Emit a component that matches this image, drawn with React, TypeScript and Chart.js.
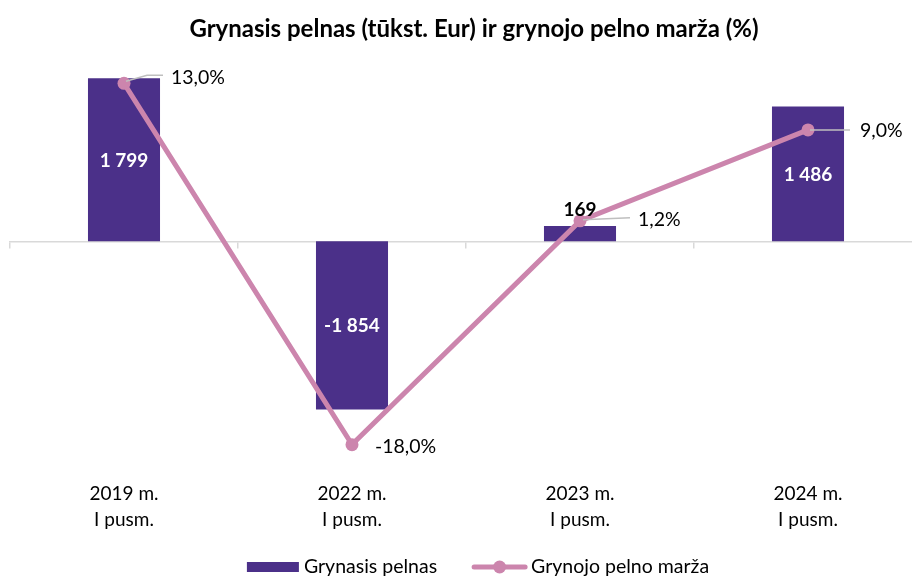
import React, { useEffect, useRef } from "react";
import { Chart, registerables } from "chart.js";

Chart.register(...registerables);

const title = "Grynasis pelnas (tūkst. Eur) ir grynojo pelno marža (%)";
const categories: string[][] = [
  ["2019 m.", "I pusm."],
  ["2022 m.", "I pusm."],
  ["2023 m.", "I pusm."],
  ["2024 m.", "I pusm."],
];
const profitLabel = "Grynasis pelnas";
const marginLabel = "Grynojo pelno marža";
const profitValues = [1799, -1854, 169, 1486];
const marginValues = [13.0, -18.0, 1.2, 9.0];

const BAR_COLOR = "#4B3089";
const LINE_COLOR = "#CC85AD";
const FONT = "Lato, 'Noto Sans', sans-serif";

const fmtThousands = (v: number) => {
  const s = Math.abs(v).toString().replace(/\B(?=(\d{3})+(?!\d))/g, " ");
  return (v < 0 ? "-" : "") + s;
};
const fmtPct = (v: number) => v.toFixed(1).replace(".", ",") + "%";

// label placement styles (offsets relative to each point)
const marginLabelStyle = [
  { dx: 47, dy: -6, leader: [[2, -2], [23, -8], [39, -8]] },
  { dx: 23, dy: 2, leader: null },
  { dx: 58, dy: -1, leader: [[3, -1], [50, -3]] },
  { dx: 52, dy: 1, leader: [[2, 0], [42, 0]] },
];

const labelsPlugin = {
  id: "customLabels",
  afterDatasetsDraw(chart: any) {
    const ctx = chart.ctx;
    ctx.save();
    const barMeta = chart.getDatasetMeta(1);
    barMeta.data.forEach((el: any, i: number) => {
      const v = profitValues[i];
      const h = Math.abs(el.base - el.y);
      ctx.font = `bold 19px ${FONT}`;
      ctx.textAlign = "center";
      ctx.textBaseline = "middle";
      if (h > 40) {
        ctx.fillStyle = "#ffffff";
        ctx.fillText(fmtThousands(v), el.x, (el.y + el.base) / 2 + 1);
      } else {
        ctx.fillStyle = "#000000";
        ctx.fillText(fmtThousands(v), el.x, Math.min(el.y, el.base) - 16);
      }
    });
    const lineMeta = chart.getDatasetMeta(0);
    lineMeta.data.forEach((el: any, i: number) => {
      const st = marginLabelStyle[i];
      if (st.leader) {
        ctx.strokeStyle = "#BFBFBF";
        ctx.lineWidth = 1.5;
        ctx.beginPath();
        st.leader.forEach((p: number[], k: number) => {
          if (k === 0) ctx.moveTo(el.x + p[0], el.y + p[1]);
          else ctx.lineTo(el.x + p[0], el.y + p[1]);
        });
        ctx.stroke();
      }
      ctx.font = `19.5px ${FONT}`;
      ctx.fillStyle = "#000000";
      ctx.textAlign = "left";
      ctx.textBaseline = "middle";
      ctx.fillText(fmtPct(marginValues[i]), el.x + st.dx, el.y + st.dy);
    });
    ctx.restore();
  },
  afterDraw(chart: any) {
    const ctx = chart.ctx;
    ctx.save();
    // title
    ctx.font = `bold 24px ${FONT}`;
    ctx.fillStyle = "#000";
    ctx.textAlign = "center";
    ctx.textBaseline = "middle";
    ctx.fillText(title, 474, 29);
    // legend
    ctx.font = `19.5px ${FONT}`;
    ctx.textBaseline = "middle";
    ctx.textAlign = "left";
    const w1 = ctx.measureText(profitLabel).width;
    const w2 = ctx.measureText(marginLabel).width;
    const total = 52 + 5 + w1 + 35 + 55 + 4 + w2;
    let x = 478 - total / 2;
    const y = 567;
    ctx.fillStyle = BAR_COLOR;
    ctx.fillRect(x, y - 5, 52, 10);
    x += 57;
    ctx.fillStyle = "#000";
    ctx.fillText(profitLabel, x, y);
    x += w1 + 35;
    ctx.strokeStyle = LINE_COLOR;
    ctx.lineWidth = 5;
    ctx.lineCap = "round";
    ctx.beginPath();
    ctx.moveTo(x + 2, y);
    ctx.lineTo(x + 53, y);
    ctx.stroke();
    ctx.fillStyle = LINE_COLOR;
    ctx.beginPath();
    ctx.arc(x + 27.5, y, 6.5, 0, Math.PI * 2);
    ctx.fill();
    x += 59;
    ctx.fillStyle = "#000";
    ctx.fillText(marginLabel, x, y);
    ctx.restore();
  },
};

export default function App() {
  const ref = useRef<HTMLCanvasElement>(null);
  useEffect(() => {
    if (!ref.current) return;
    const chart = new Chart(ref.current, {
      type: "bar",
      data: {
        labels: categories,
        datasets: [
          {
            type: "line",
            label: marginLabel,
            data: marginValues,
            yAxisID: "y2",
            xAxisID: "x",
            borderColor: LINE_COLOR,
            backgroundColor: LINE_COLOR,
            borderWidth: 5,
            pointRadius: 6.5,
            pointBackgroundColor: LINE_COLOR,
            pointBorderWidth: 0,
            tension: 0,
            order: 1,
          } as any,
          {
            type: "bar",
            label: profitLabel,
            data: profitValues,
            yAxisID: "y",
            xAxisID: "x",
            backgroundColor: BAR_COLOR,
            borderWidth: 0,
            categoryPercentage: 1,
            barPercentage: 0.316,
            order: 2,
          },
        ],
      },
      options: {
        responsive: false,
        animation: false,
        layout: { padding: { left: 10, right: 24, top: 60, bottom: 30 } },
        plugins: {
          legend: { display: false },
          tooltip: { enabled: false },
          title: { display: false },
        },
        scales: {
          x: {
            type: "category",
            position: "bottom",
            offset: true,
            grid: { display: false, offset: true, drawTicks: false },
            border: { display: false },
            ticks: {
              color: "#000",
              padding: 13,
              font: { family: FONT, size: 19, lineHeight: 1.37 },
              maxRotation: 0,
              autoSkip: false,
            },
          },
          x0: {
            type: "category",
            position: { y: 0 } as any,
            offset: true,
            grid: {
              display: true,
              offset: true,
              drawOnChartArea: false,
              drawTicks: true,
              tickLength: 6,
              color: "#D9D9D9",
              lineWidth: 1.5,
            },
            border: { display: true, color: "#D9D9D9", width: 1.5 },
            ticks: { display: false },
          },
          y: {
            type: "linear",
            display: false,
            min: -2500,
            max: 2000,
          },
          y2: {
            type: "linear",
            display: false,
            min: -20,
            max: 15,
          },
        },
      } as any,
      plugins: [labelsPlugin],
    });
    return () => chart.destroy();
  }, []);
  return (
    <div style={{ position: "fixed", left: 0, top: 0, width: 912, height: 576, overflow: "hidden", background: "#fff" }}>
      <canvas ref={ref} width={946} height={576} style={{ display: "block" }} />
    </div>
  );
}
